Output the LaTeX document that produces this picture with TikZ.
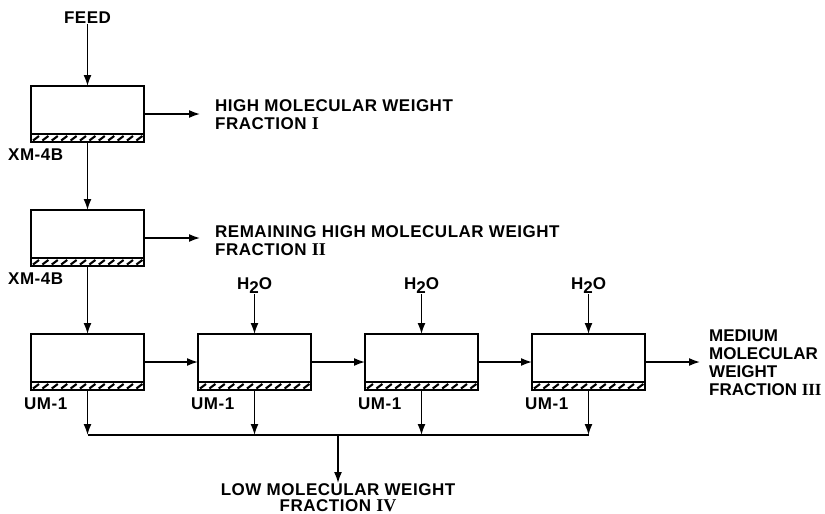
\documentclass[tikz,border=0pt]{standalone}
\usepackage{fontspec}
\setmainfont{Liberation Sans}[LetterSpace=3]
\newfontfamily\numfont{Liberation Serif}
\usetikzlibrary{
    arrows.meta,
    positioning
}

\newcommand{\romnum}[1]{{\numfont\bfseries\fontsize{18}{18}\selectfont #1}}

\begin{document}
\begin{tikzpicture}[
x=1pt, y=-1pt,
font=\fontsize{17}{18}\selectfont\bfseries,
node distance=68pt and 54pt,
cell/.style={
draw,
line width=2.6pt,
minimum width=113pt,
minimum height=56pt,
inner sep=0pt,
outer sep=0pt,
path picture={
\draw[line width=1.8pt]
([yshift=8pt]path picture bounding box.south west) --
([yshift=8pt]path picture bounding box.south east);
\foreach \k in {0,...,11}
\draw[line width=2.1pt]
([xshift=\k*9.4pt+2pt, yshift=1.5pt]path picture bounding box.south west)
-- ++(6pt,4.5pt);
}
},
lbl/.style={
inner sep=0pt,
align=left
},
arr/.style={
-{Latex[length=11pt,width=8pt]},
line width=1.6pt
}
]

\useasboundingbox (0,0) rectangle (825,514);

% the membrane cells
\node[cell] (xm1) at (87.5,114) {};
\node[cell, below=of xm1] (xm2) {};
\node[cell, below=of xm2] (um1) {};
\node[cell, right=of um1] (um2) {};
\node[cell, right=of um2] (um3) {};
\node[cell, right=of um3] (um4) {};

% membrane names
\node[lbl, anchor=north west] (xmname1)
at ([xshift=-23pt, yshift=-7pt]xm1.south west) {XM-4B};
\node[lbl, anchor=north west] (xmname2)
at ([xshift=-23pt, yshift=-7pt]xm2.south west) {XM-4B};
\foreach \i in {1,...,4}
\node[lbl, anchor=north west] (umname\i)
at ([xshift=-7pt, yshift=-8pt]um\i.south west) {UM-1};

% feed and water
\node[lbl] (feed) at (87.5,18) {FEED};
\foreach \i in {2,3,4}
\node[lbl, above=40pt of um\i.north] (water\i)
{H\raisebox{-4pt}{2}O};

% fractions
\node[lbl, anchor=west] (frac1) at (215,115)
{HIGH MOLECULAR WEIGHT\\FRACTION \romnum{I}};
\node[lbl, anchor=west] (frac2) at (215,241)
{REMAINING HIGH MOLECULAR WEIGHT\\FRACTION \romnum{II}};
\node[lbl, anchor=west,
font=\fontsize{17}{18}\selectfont\bfseries\addfontfeatures{LetterSpace=0}]
(frac3) at (709,363)
{MEDIUM\\MOLECULAR\\WEIGHT\\FRACTION {\numfont\bfseries III}};
\node[lbl, align=center, anchor=north] (frac4) at (338,483)
{LOW MOLECULAR WEIGHT\\[-2pt]FRACTION \romnum{IV}};

% collector for the permeates
\coordinate (col) at (338,435);

\draw[arr] (feed) -- (xm1);
\draw[arr] (xm1) -- (xm2);
\draw[arr] (xm2) -- (um1);
\draw[arr] (um1) -- (um2);
\draw[arr] (um2) -- (um3);
\draw[arr] (um3) -- (um4);
\foreach \i in {2,3,4}
\draw[arr] (water\i) -- (um\i);

\draw[arr, shorten >=15pt] (xm1.east) -- (xm1.east -| frac1.west);
\draw[arr, shorten >=15pt] (xm2.east) -- (xm2.east -| frac2.west);
\draw[arr, shorten >=9pt] (um4.east) -- (um4.east -| frac3.west);

\foreach \i in {1,...,4}
\draw[arr] (um\i.south) -- (um\i.south |- col);
\draw[line width=1.6pt] (um1.south |- col) -- (um4.south |- col);
\draw[arr] (col) -- (frac4);

\end{tikzpicture}
\end{document}
